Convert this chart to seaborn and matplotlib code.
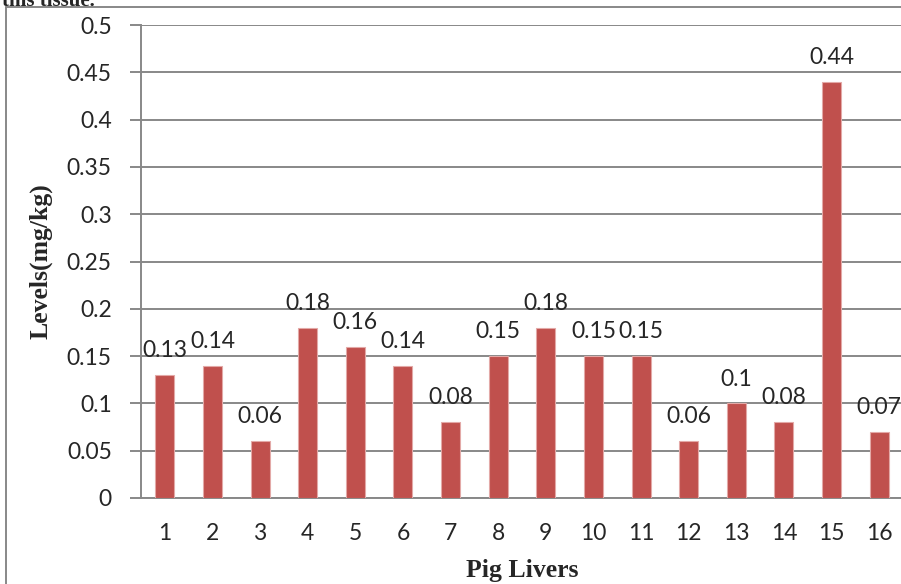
import numpy as np
import pandas as pd
import seaborn as sns
import matplotlib.pyplot as plt
from matplotlib.lines import Line2D

livers = [str(i) for i in range(1, 17)]
levels = [0.13, 0.14, 0.06, 0.18, 0.16, 0.14, 0.08, 0.15,
          0.18, 0.15, 0.15, 0.06, 0.1, 0.08, 0.44, 0.07]
level_labels = ["0.13", "0.14", "0.06", "0.18", "0.16", "0.14", "0.08", "0.15",
                "0.18", "0.15", "0.15", "0.06", "0.1", "0.08", "0.44", "0.07"]
y_ticks = [0, 0.05, 0.1, 0.15, 0.2, 0.25, 0.3, 0.35, 0.4, 0.45, 0.5]
y_tick_labels = ["0", "0.05", "0.1", "0.15", "0.2", "0.25", "0.3", "0.35", "0.4", "0.45", "0.5"]

df = pd.DataFrame({"liver": livers, "level": levels})

sns.set_theme(style="white")
plt.rcParams["font.family"] = ["Lato", "DejaVu Sans"]

grid_col = "#888888"
fs = 16.5
fig = plt.figure(figsize=(9.01, 5.84), dpi=100)
ax = fig.add_axes([141 / 901, 1 - 498 / 584, 762 / 901, (498 - 25) / 584])

sns.barplot(data=df, x="liver", y="level", color="#C0504D", width=0.4,
            saturation=1, edgecolor="#E3A9A7", linewidth=0.8, ax=ax, zorder=3)

ax.set_ylim(0, 0.5)
ax.set_xlim(-0.5, 15.5)
ax.set_yticks(y_ticks)
ax.set_yticklabels(y_tick_labels, fontsize=fs)
ax.yaxis.grid(True, color=grid_col, linewidth=1.4, zorder=0)
ax.set_axisbelow(True)

ax.set_xticks(np.arange(16))
ax.set_xticklabels(livers, fontsize=fs)
ax.set_xticks(np.arange(-0.5, 16, 1), minor=True)
ax.tick_params(axis="x", which="major", length=0, pad=18)
ax.tick_params(axis="x", which="minor", length=7, width=1.4, color=grid_col, direction="out")
ax.tick_params(axis="y", length=8, width=1.4, color=grid_col, direction="out", left=True, pad=13)

for side in ["top", "right"]:
    ax.spines[side].set_visible(False)
for side in ["left", "bottom"]:
    ax.spines[side].set_color(grid_col)
    ax.spines[side].set_linewidth(1.4)

ax.bar_label(ax.containers[0], labels=level_labels, padding=10, fontsize=fs)

ax.set_xlabel("Pig Livers", fontsize=18.5, fontweight="bold", family="Liberation Serif", labelpad=11)
ax.set_ylabel("Levels(mg/kg)", fontsize=18.5, fontweight="bold", family="Liberation Serif", labelpad=10)

# outer chart frame
fig.add_artist(Line2D([6 / 901, 6 / 901], [0, 1 - 7 / 584], transform=fig.transFigure,
                      color=grid_col, linewidth=1.4))
fig.add_artist(Line2D([6 / 901, 1], [1 - 7 / 584, 1 - 7 / 584], transform=fig.transFigure,
                      color=grid_col, linewidth=1.4))
fig.text(2 / 901, 1 + 9 / 584, "this tissue.", fontsize=15, fontweight="bold",
         family="Liberation Serif", va="top", ha="left")

fig.savefig("out.png", dpi=100)
